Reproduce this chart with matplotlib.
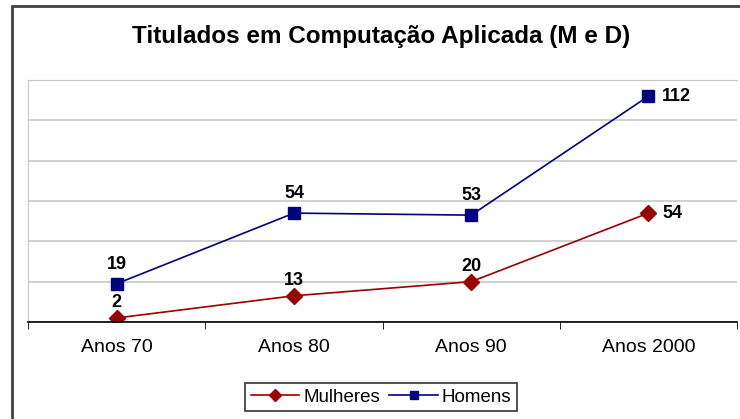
import matplotlib.pyplot as plt
from matplotlib.patches import Rectangle

plt.rcParams['font.family'] = ['Liberation Sans', 'DejaVu Sans']

# data
categorias = ['Anos 70', 'Anos 80', 'Anos 90', 'Anos 2000']
mulheres = [2, 13, 20, 54]
homens = [19, 54, 53, 112]

cor_m = '#990000'
cor_h = '#000080'

fig = plt.figure(figsize=(7.4, 4.19), dpi=100)
ax = fig.add_axes([0.038, 0.2315, 0.958, 0.5775])

x = range(len(categorias))
ax.plot(x, mulheres, color=cor_m, lw=1.2, marker='D', ms=8, label='Mulheres')
ax.plot(x, homens, color=cor_h, lw=1.2, marker='s', ms=8.5, label='Homens')

# value labels
fs_lab = 13
for serie, dy in [(homens, 8), (mulheres, 5)]:
    for i, v in enumerate(serie):
        if i == len(serie) - 1:
            ax.annotate(str(v), (i, v), xytext=(10, 0), textcoords='offset points',
                        ha='left', va='center', fontsize=fs_lab, fontweight='bold')
        else:
            ax.annotate(str(v), (i, v), xytext=(0, dy), textcoords='offset points',
                        ha='center', va='bottom', fontsize=fs_lab, fontweight='bold')

ax.set_xlim(-0.5, len(categorias) - 0.5)
ax.set_ylim(0, 120)
ax.set_yticks(range(0, 121, 20))
ax.set_yticklabels([])
ax.tick_params(axis='y', length=0)
ax.grid(axis='y', color='#c8c8c8', lw=1.2)
ax.set_axisbelow(True)

ax.set_xticks(list(x))
ax.set_xticklabels(categorias, fontsize=14)
ax.tick_params(axis='x', length=0, pad=12)
ax.set_xticks([i - 0.5 for i in range(len(categorias) + 1)], minor=True)
ax.tick_params(axis='x', which='minor', length=5, color='black', direction='out')

for s in ['top', 'right', 'left']:
    ax.spines[s].set_color('#c8c8c8')
ax.spines['right'].set_visible(False)
ax.spines['bottom'].set_color('black')
ax.spines['bottom'].set_linewidth(1.2)

fig.text(0.515, 0.912, 'Titulados em Computação Aplicada (M e D)',
         ha='center', va='center', fontsize=17.5, fontweight='bold')

leg = fig.legend(loc='center', bbox_to_anchor=(0.515, 0.052), ncol=2,
                 fontsize=13.5, frameon=True, fancybox=False, edgecolor='black',
                 handlelength=2.6, columnspacing=0.5, handletextpad=0.2,
                 borderpad=0.3, markerscale=0.75)
leg.get_frame().set_linewidth(1.2)

# outer chart border
fig.patches.append(Rectangle((12 / 740, -0.05), 1.1, 1 - 6 / 419 + 0.05,
                             transform=fig.transFigure, fill=False,
                             edgecolor='#404040', lw=2, zorder=0))

fig.savefig('out.png', dpi=100)
